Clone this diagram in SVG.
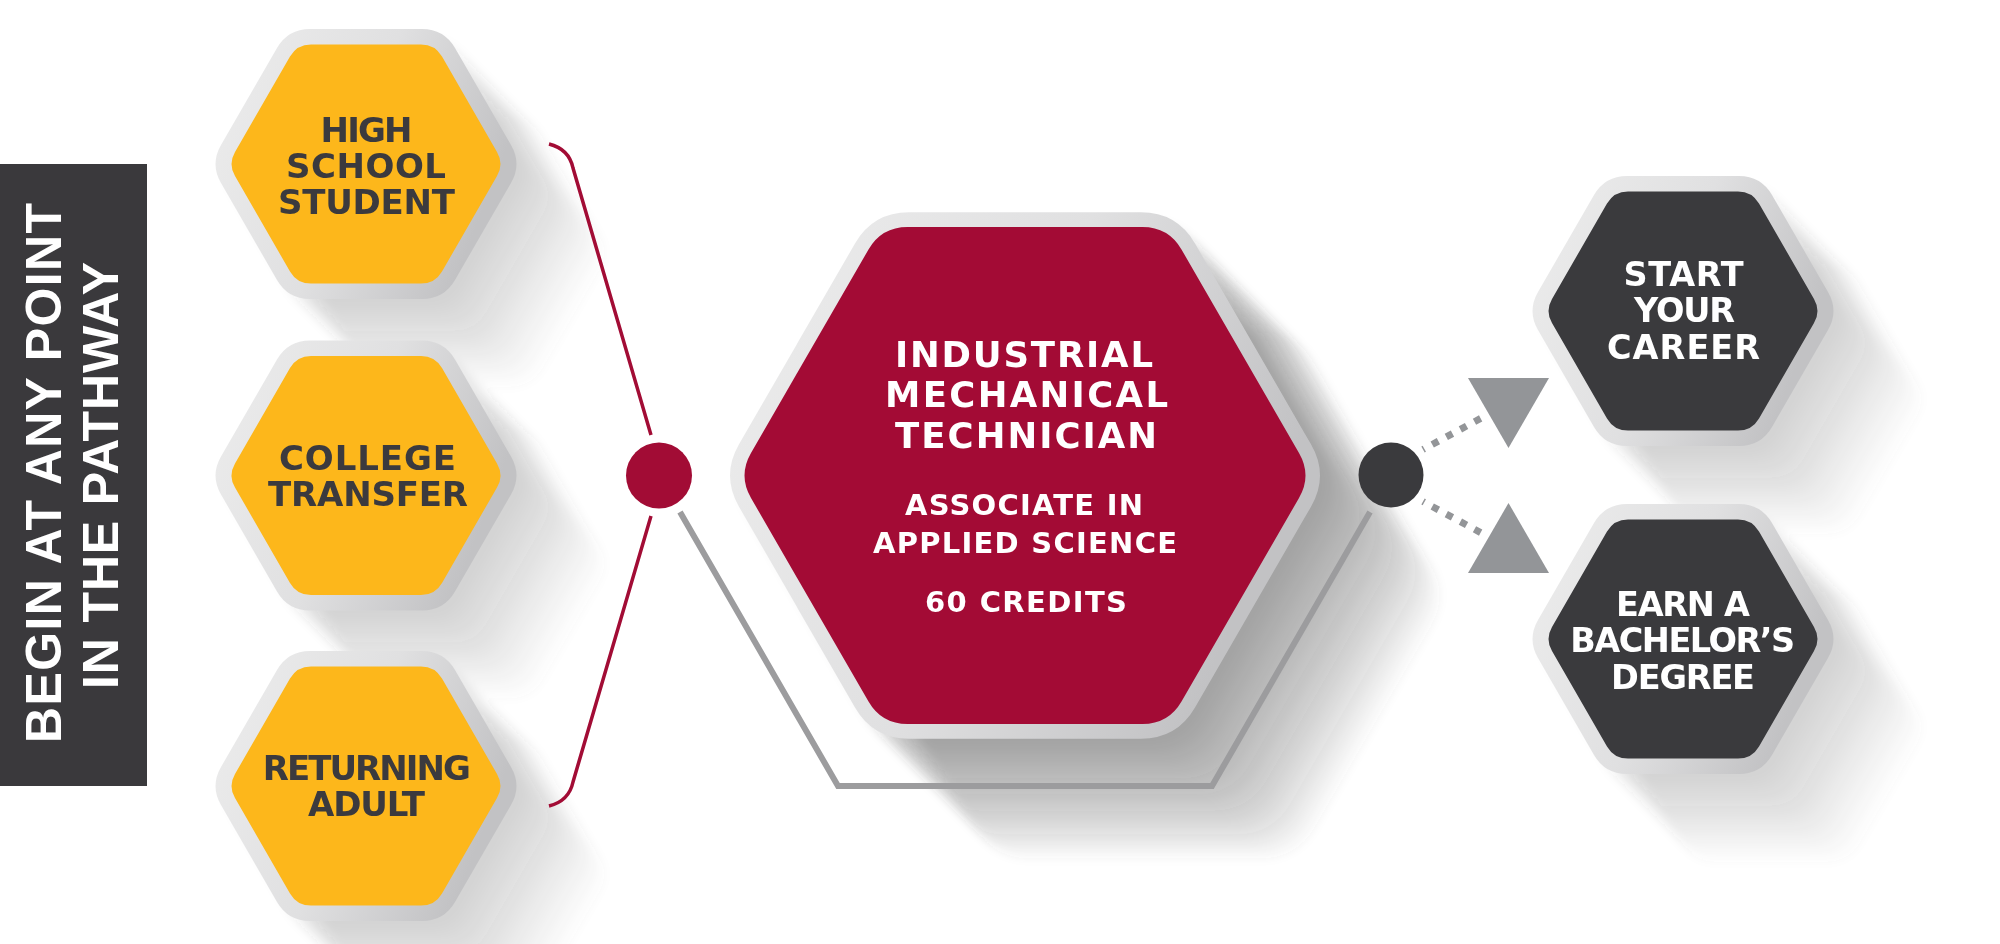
<svg xmlns="http://www.w3.org/2000/svg" width="2000" height="944" viewBox="0 0 2000 944">
<defs>
<style>
.hx{font-family:'DejaVu Sans','Liberation Sans',sans-serif;font-weight:700;text-anchor:middle}
.yt{fill:#3b3a3e;font-size:34px}
.wt{fill:#ffffff;font-size:33.5px}
.rh{fill:#ffffff;font-size:35.5px}
.rs{fill:#ffffff;font-size:29px}
.ban{font-family:'Liberation Sans',Arial,sans-serif;font-weight:700;font-size:50px;fill:#ffffff;text-anchor:middle}
.conn{fill:none;stroke-linejoin:miter}
</style>
<linearGradient id="rim" x1="0" y1="0" x2="1" y2="0.35">
<stop offset="0" stop-color="#ededed"/>
<stop offset="0.55" stop-color="#e0e0e1"/>
<stop offset="1" stop-color="#c2c2c4"/>
</linearGradient>
<filter id="blur" x="-30%" y="-30%" width="160%" height="160%">
<feGaussianBlur stdDeviation="4"/>
</filter>
<path id="so" d="M-56,-135.1 L56,-135.1 Q78,-135.1 89,-116.05 L145,-19.05 Q156,0 145,19.05 L89,116.05 Q78,135.1 56,135.1 L-56,135.1 Q-78,135.1 -89,116.05 L-145,19.05 Q-156,0 -145,-19.05 L-89,-116.05 Q-78,-135.1 -56,-135.1 Z"/>
<path id="si" d="M-55,-119.51 L55,-119.51 Q69,-119.51 76,-107.39 L131,-12.12 Q138,0 131,12.12 L76,107.39 Q69,119.51 55,119.51 L-55,119.51 Q-69,119.51 -76,107.39 L-131,12.12 Q-138,0 -131,-12.12 L-76,-107.39 Q-69,-119.51 -55,-119.51 Z"/>
<path id="bo" d="M-116,-263.27 L116,-263.27 Q152,-263.27 170,-232.09 L286,-31.18 Q304,0 286,31.18 L170,232.09 Q152,263.27 116,263.27 L-116,263.27 Q-152,263.27 -170,232.09 L-286,31.18 Q-304,0 -286,-31.18 L-170,-232.09 Q-152,-263.27 -116,-263.27 Z"/>
<path id="bi" d="M-117.5,-248.55 L117.5,-248.55 Q143.5,-248.55 156.5,-226.03 L274,-22.52 Q287,0 274,22.52 L156.5,226.03 Q143.5,248.55 117.5,248.55 L-117.5,248.55 Q-143.5,248.55 -156.5,226.03 L-274,22.52 Q-287,0 -274,-22.52 L-156.5,-226.03 Q-143.5,-248.55 -117.5,-248.55 Z"/>
<g id="ssh" fill="#555555" fill-opacity="0.024">
<use href="#so" x="8" y="8"/><use href="#so" x="16" y="16"/><use href="#so" x="24" y="24"/><use href="#so" x="32" y="32"/>
<use href="#so" x="40" y="40"/><use href="#so" x="48" y="48"/><use href="#so" x="56" y="56"/><use href="#so" x="64" y="64"/>
<use href="#so" x="72" y="72"/><use href="#so" x="80" y="80"/><use href="#so" x="88" y="88"/>
</g>
<g id="bsh" fill="#444444" fill-opacity="0.045">
<use href="#bo" x="8" y="8"/><use href="#bo" x="16" y="16"/><use href="#bo" x="24" y="24"/><use href="#bo" x="32" y="32"/>
<use href="#bo" x="40" y="40"/><use href="#bo" x="48" y="48"/><use href="#bo" x="56" y="56"/><use href="#bo" x="64" y="64"/>
<use href="#bo" x="72" y="72"/><use href="#bo" x="80" y="80"/><use href="#bo" x="88" y="88"/><use href="#bo" x="96" y="96"/>
<use href="#bo" x="104" y="104"/><use href="#bo" x="112" y="112"/><use href="#bo" x="120" y="120"/>
</g>
</defs>

<rect width="2000" height="944" fill="#ffffff"/>

<g id="shadows" filter="url(#blur)">
<use href="#ssh" x="366" y="164"/>
<use href="#ssh" x="366" y="475.5"/>
<use href="#ssh" x="366" y="786"/>
<use href="#bsh" x="1025" y="475.5"/>
<use href="#ssh" x="1683" y="311"/>
<use href="#ssh" x="1683" y="639"/>
</g>

<g id="banner">
<rect x="0" y="164" width="147" height="622" fill="#3a393c"/>
<text class="ban" transform="translate(61,473) rotate(-90)" textLength="540">BEGIN AT ANY POINT</text>
<text class="ban" transform="translate(118,475.5) rotate(-90)" textLength="427">IN THE PATHWAY</text>
</g>

<g id="connectors">
<path class="conn" d="M549,144 Q569,149 573,168 L651,435" stroke="#a20c35" stroke-width="3.5"/>
<path class="conn" d="M651,516 L573,782 Q569,801 549,806" stroke="#a20c35" stroke-width="3.5"/>
<path class="conn" d="M680,512 L838,786 L1212,786 L1370,512" stroke="#9c9c9e" stroke-width="6"/>
<circle cx="659" cy="475.5" r="33" fill="#a20c35"/>
<circle cx="1391" cy="475" r="32.5" fill="#3a3a3d"/>
<path class="conn" d="M1423,449.5 L1481,418.2" stroke="#939598" stroke-width="7" stroke-dasharray="7 9" stroke-dashoffset="5.5"/>
<path class="conn" d="M1423,501.5 L1481,532.8" stroke="#939598" stroke-width="7" stroke-dasharray="7 9" stroke-dashoffset="5.5"/>
<polygon points="1468,378 1549,378 1508.5,448" fill="#939598"/>
<polygon points="1508.5,503 1549,573 1468,573" fill="#939598"/>
</g>

<g id="high-school-student">
<use href="#so" x="366" y="164" fill="url(#rim)"/>
<use href="#si" x="366" y="164" fill="#fdb71b"/>
<text class="hx yt" x="366.5" y="141.5" textLength="92">HIGH</text>
<text class="hx yt" x="366" y="177.5" textLength="160">SCHOOL</text>
<text class="hx yt" x="366.5" y="213.5" textLength="177">STUDENT</text>
</g>

<g id="college-transfer">
<use href="#so" x="366" y="475.5" fill="url(#rim)"/>
<use href="#si" x="366" y="475.5" fill="#fdb71b"/>
<text class="hx yt" x="367.5" y="469.5" textLength="177">COLLEGE</text>
<text class="hx yt" x="368" y="505.5" textLength="200">TRANSFER</text>
</g>

<g id="returning-adult">
<use href="#so" x="366" y="786" fill="url(#rim)"/>
<use href="#si" x="366" y="786" fill="#fdb71b"/>
<text class="hx yt" x="366.8" y="779.5" textLength="208">RETURNING</text>
<text class="hx yt" x="366.5" y="815.5" textLength="117">ADULT</text>
</g>

<g id="industrial-mechanical-technician">
<use href="#bo" x="1025" y="475.5" fill="url(#rim)"/>
<use href="#bi" x="1025" y="475.5" fill="#a30b35"/>
<text class="hx rh" x="1024" y="367" textLength="258">INDUSTRIAL</text>
<text class="hx rh" x="1026.5" y="407" textLength="283">MECHANICAL</text>
<text class="hx rh" x="1026" y="448" textLength="262">TECHNICIAN</text>
<text class="hx rs" x="1024" y="515" textLength="238">ASSOCIATE IN</text>
<text class="hx rs" x="1025" y="553.3" textLength="304">APPLIED SCIENCE</text>
<text class="hx rs" x="1026" y="611.7" textLength="202">60 CREDITS</text>
</g>

<g id="start-your-career">
<use href="#so" x="1683" y="311" fill="url(#rim)"/>
<use href="#si" x="1683" y="311" fill="#3a3a3d"/>
<text class="hx wt" x="1683.5" y="286" textLength="120">START</text>
<text class="hx wt" x="1684.5" y="322" textLength="101">YOUR</text>
<text class="hx wt" x="1683.5" y="359" textLength="153">CAREER</text>
</g>

<g id="earn-bachelors-degree">
<use href="#so" x="1683" y="639" fill="url(#rim)"/>
<use href="#si" x="1683" y="639" fill="#3a3a3d"/>
<text class="hx wt" x="1683" y="615.5" textLength="134">EARN A</text>
<text class="hx wt" x="1682.7" y="652" textLength="225">BACHELOR’S</text>
<text class="hx wt" x="1683" y="688.5" textLength="144">DEGREE</text>
</g>
</svg>
